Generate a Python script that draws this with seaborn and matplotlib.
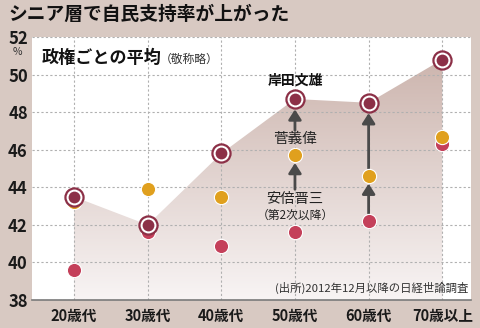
import numpy as np
import pandas as pd
import matplotlib
matplotlib.use("Agg")
import matplotlib.pyplot as plt
from matplotlib.colors import LinearSegmentedColormap
import seaborn as sns

categories = ["20歳代", "30歳代", "40歳代", "50歳代", "60歳代", "70歳以上"]
abe = [39.6, 41.6, 40.9, 41.6, 42.2, 46.3]
suga = [43.2, 43.9, 43.5, 45.7, 44.6, 46.7]
kishida = [43.5, 42.0, 45.8, 48.7, 48.5, 50.8]
yticks = [38, 40, 42, 44, 46, 48, 50, 52]

title = "シニア層で自民支持率が上がった"
subtitle = "政権ごとの平均"
subnote = "（敬称略）"
source = "(出所)2012年12月以降の日経世論調査"
name_kishida = "岸田文雄"
name_suga = "菅義偉"
name_abe = "安倍晋三"
name_abe2 = "（第2次以降）"

sns.set_theme(style="white")
plt.rcParams["font.family"] = ["Noto Sans CJK JP", "DejaVu Sans"]

BG = "#d8c9c2"
C_ABE = "#c4405a"
C_SUGA = "#e0a01e"
C_KISHIDA = "#8c3047"
C_ARROW = "#4a4a4a"

xs = np.arange(len(categories))
df = pd.DataFrame({
    "x": np.concatenate([xs, xs, xs]),
    "value": abe + suga + kishida,
    "series": ["abe"] * 6 + ["suga"] * 6 + ["kishida"] * 6,
})

fig = plt.figure(figsize=(4.8, 3.28), dpi=100, facecolor=BG)
ax = fig.add_axes([32 / 480, 28 / 328, 439 / 480, 263 / 328])
ax.set_facecolor("white")

# gradient fill under Kishida line
poly = ax.fill_between(xs, kishida, 38, facecolor="none", edgecolor="none")
cmap = LinearSegmentedColormap.from_list("g", ["#f8f4f4", "#ccb4ad"])
grad = np.linspace(0, 1, 256).reshape(-1, 1)
im = ax.imshow(grad, extent=[0, 5, 38, 51], origin="lower", aspect="auto",
               cmap=cmap, zorder=1)
im.set_clip_path(poly.get_paths()[0], transform=ax.transData)

# markers
sns.scatterplot(data=df[df.series == "abe"], x="x", y="value", ax=ax,
                color=C_ABE, s=105, edgecolor="white", linewidth=0.8,
                zorder=4, legend=False)
sns.scatterplot(data=df[df.series == "suga"], x="x", y="value", ax=ax,
                color=C_SUGA, s=105, edgecolor="white", linewidth=0.8,
                zorder=5, legend=False)
sns.scatterplot(data=df[df.series == "kishida"], x="x", y="value", ax=ax,
                color="white", s=170, edgecolor=C_KISHIDA, linewidth=1.6,
                zorder=6, legend=False)
sns.scatterplot(data=df[df.series == "kishida"], x="x", y="value", ax=ax,
                color=C_KISHIDA, s=72, edgecolor=C_KISHIDA, linewidth=0,
                zorder=7, legend=False)

ax.set_xlim(-0.57, 5.39)
ax.set_ylim(38, 52)
ax.set_xticks(xs)
ax.set_xticklabels(categories)
ax.set_yticks(yticks)
ax.set_yticklabels([str(v) for v in yticks])
ax.set_xlabel("")
ax.set_ylabel("")

ax.set_axisbelow(False)
ax.grid(True, linestyle=(0, (2, 2)), color="#b0b0b0", linewidth=0.8)
for gl in ax.get_xgridlines() + ax.get_ygridlines():
    gl.set_zorder(2.5)

for s in ["top", "left", "right"]:
    ax.spines[s].set_visible(False)
ax.spines["bottom"].set_color("#7a7a7a")
ax.spines["bottom"].set_linewidth(1.2)
ax.spines["bottom"].set_zorder(8)
ax.tick_params(axis="x", direction="in", length=4, width=1, color="#7a7a7a",
               labelsize=10.5, pad=6, labelcolor="#1a1a1a")
ax.tick_params(axis="y", length=0, labelsize=12, pad=3, labelcolor="#1a1a1a")
for lbl in ax.get_yticklabels() + ax.get_xticklabels():
    lbl.set_fontweight("bold")

# arrows
def arrow(x, y0, y1, sa, sb):
    ax.annotate("", xy=(x, y1), xytext=(x, y0),
                arrowprops=dict(arrowstyle="-|>,head_length=0.5,head_width=0.32",
                                color=C_ARROW, lw=2.0, shrinkA=sa, shrinkB=sb),
                zorder=3)

arrow(3, abe[3], suga[3], 31, 5.5)
arrow(3, suga[3], kishida[3], 18, 7.5)
arrow(4, abe[4], suga[4], 5.5, 5.5)
arrow(4, suga[4], kishida[4], 5.5, 7.5)

# labels
ax.annotate(name_kishida, xy=(3, kishida[3]), xytext=(0, 13), textcoords="offset points",
            ha="center", va="center", fontsize=10, fontweight="bold", color="#111", zorder=9)
ax.annotate(name_suga, xy=(3, suga[3]), xytext=(0, 11.5), textcoords="offset points",
            ha="center", va="center", fontsize=10.5, color="#222", zorder=9)
ax.annotate(name_abe, xy=(3, abe[3]), xytext=(0, 24), textcoords="offset points",
            ha="center", va="center", fontsize=10.3, color="#222", zorder=9)
ax.annotate(name_abe2, xy=(3, abe[3]), xytext=(0, 12), textcoords="offset points",
            ha="center", va="center", fontsize=8.5, color="#222", zorder=9)

ax.text(0.993, 0.047, source, transform=ax.transAxes, ha="right", va="center",
        fontsize=8.2, color="#333", zorder=9)

fig.text(8 / 480, 1 - 14 / 328, title, ha="left", va="center", fontsize=13.5,
         fontweight="bold", color="#111")
fig.text(42 / 480, 1 - 58 / 328, subtitle, ha="left", va="center", fontsize=12.3,
         fontweight="bold", color="#111")
fig.text(160 / 480, 1 - 59 / 328, subnote, ha="left", va="center", fontsize=8.5,
         color="#333")
fig.text(17 / 480, 1 - 52 / 328, "%", ha="center", va="center", fontsize=7.5,
         color="#333")

fig.savefig("out.png", dpi=100, facecolor=BG)
